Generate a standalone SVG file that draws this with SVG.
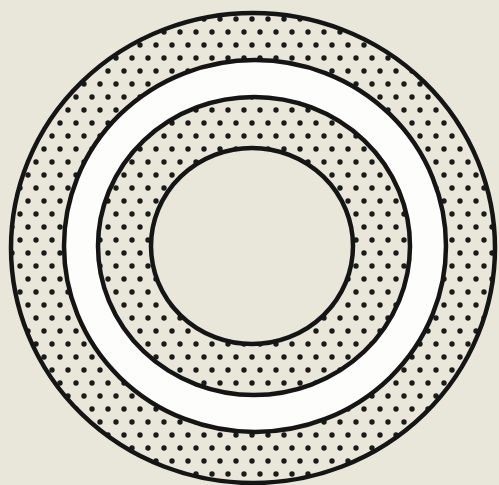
<svg xmlns="http://www.w3.org/2000/svg" width="499" height="485" viewBox="0 0 499 485">
  <defs>
    <pattern id="dots" x="0" y="0" width="16" height="26" patternUnits="userSpaceOnUse">
      <circle cx="4" cy="6" r="2.7" fill="#1a1a1a"/>
      <circle cx="12" cy="19" r="2.7" fill="#1a1a1a"/>
    </pattern>
    <style>
      .ring { stroke: #151515; stroke-width: 4.5; }
    </style>
  </defs>
  <rect width="499" height="485" fill="#e9e7d9"/>
  <g id="outer-ring">
    <ellipse cx="253" cy="248" rx="242" ry="235" fill="#e9e7d9"/>
    <ellipse cx="253" cy="248" rx="242" ry="235" fill="url(#dots)" class="ring"/>
  </g>
  <g id="white-ring">
    <ellipse cx="255" cy="246" rx="191" ry="186" fill="#fdfdfb" class="ring"/>
  </g>
  <g id="inner-ring">
    <ellipse cx="254" cy="246" rx="156" ry="149" fill="#e9e7d9"/>
    <ellipse cx="254" cy="246" rx="156" ry="149" fill="url(#dots)" class="ring"/>
  </g>
  <g id="core">
    <ellipse cx="252" cy="246" rx="101" ry="98" fill="#e9e7d9" class="ring"/>
  </g>
</svg>
